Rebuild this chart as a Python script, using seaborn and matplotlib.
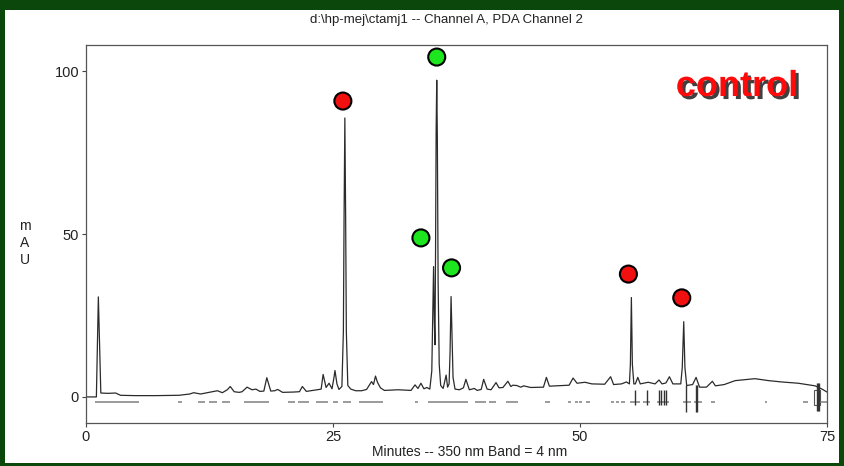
import matplotlib
matplotlib.use("Agg")
import matplotlib.pyplot as plt
import matplotlib.patheffects as pe
from matplotlib.patches import Rectangle
import seaborn as sns
import pandas as pd

# ---------------- data ----------------
time_min = [0.0, 1.05, 1.25, 1.5, 2.2, 3.0, 3.5, 5.0, 7.0, 9.4, 10.5, 10.9, 11.6, 12.3, 12.8, 13.3, 13.8,
            14.3, 14.6, 15.0, 15.5, 15.8, 16.3, 16.8, 17.2, 17.6, 18.0, 18.3, 18.7, 19.1, 19.4, 19.9,
            21.0, 21.6, 21.9, 22.3, 23.0, 23.4, 23.8, 24.0, 24.3, 24.6, 24.9, 25.1, 25.2, 25.4, 25.6,
            25.9, 26.05, 26.12, 26.2, 26.28, 26.35, 26.5, 26.8, 27.3, 27.9, 28.4, 28.9, 29.1, 29.3,
            29.5, 29.8, 30.2, 31.6, 32.9, 33.3, 33.6, 33.9, 34.2, 34.5, 34.8, 35.0, 35.1, 35.18,
            35.25, 35.32, 35.38, 35.44, 35.5, 35.56, 35.64, 35.75, 35.9, 36.15, 36.45, 36.6, 36.75,
            36.85, 36.95, 37.05, 37.15, 37.35, 37.8, 38.2, 38.45, 38.8, 39.3, 39.6, 40.0, 40.25,
            40.6, 41.0, 41.5, 41.8, 42.2, 42.7, 43.0, 43.2, 43.6, 44.0, 44.3, 45.0, 46.3, 46.6,
            46.9, 48.4, 48.9, 49.3, 49.7, 50.5, 51.2, 52.5, 53.1, 53.4, 54.2, 54.7, 55.0, 55.1,
            55.2, 55.3, 55.45, 55.6, 55.85, 56.1, 56.9, 57.6, 58.0, 58.3, 58.7, 59.05, 59.4, 60.2,
            60.35, 60.5, 60.62, 60.8, 61.4, 61.75, 62.1, 62.8, 63.4, 63.7, 64.6, 65.7, 66.7, 67.7,
            69.1, 70.4, 72.1, 73.8, 74.5, 75.0]
absorbance_mau = [0.0, 0.0, 30.7, 1.2, 1.1, 1.2, 0.5, 0.4, 0.4, 0.5, 0.9, 1.3, 0.9, 1.3, 1.6, 1.9, 1.3,
                  2.2, 3.2, 1.6, 1.4, 1.6, 3.0, 2.2, 2.4, 1.7, 1.8, 5.9, 1.8, 1.9, 2.3, 1.4,
                  1.5, 1.6, 3.2, 1.7, 2.0, 2.2, 2.4, 6.9, 2.9, 4.2, 2.5, 6.0, 8.1, 4.0, 2.3,
                  3.2, 20.0, 55.0, 85.6, 55.0, 20.0, 3.5, 2.4, 1.9, 1.9, 2.3, 4.7, 3.8, 6.4,
                  4.5, 2.8, 2.0, 2.2, 2.0, 3.7, 2.6, 4.2, 2.5, 2.9, 2.4, 8.0, 25.0, 40.0,
                  24.0, 16.0, 45.0, 82.0, 97.2, 80.0, 35.0, 10.0, 3.5, 2.6, 6.7, 3.0, 4.0,
                  14.0, 30.8, 18.0, 6.0, 2.4, 2.2, 2.8, 5.4, 2.2, 2.6, 2.0, 2.3, 5.4,
                  2.4, 2.2, 4.4, 2.8, 2.9, 4.8, 3.2, 3.6, 3.5, 3.0, 3.4, 2.9, 3.0, 6.0,
                  3.3, 3.5, 3.6, 5.8, 4.2, 4.5, 4.0, 3.9, 6.2, 3.8, 4.0, 4.6, 4.0, 10.0,
                  30.5, 10.0, 4.0, 4.0, 6.0, 4.0, 4.5, 4.0, 5.2, 4.0, 4.3, 6.2, 4.0, 4.0,
                  9.0, 23.1, 9.0, 3.5, 3.8, 6.0, 3.0, 3.0, 4.8, 3.4, 3.8, 5.0, 5.3, 5.6,
                  5.0, 4.6, 4.2, 3.4, 2.4, 1.5]

marker_time = [26.0, 35.5, 33.9, 37.0, 54.9, 60.3]
marker_mau = [90.8, 104.3, 48.8, 39.6, 37.7, 30.4]
marker_group = ["red", "green", "green", "green", "red", "red"]

# integration baseline segments (start, end) in minutes
seg_start = [0.9, 9.3, 11.3, 12.4, 13.8, 16.0, 20.4, 21.5, 23.3, 25.0, 26.0, 27.6, 33.3, 34.6, 39.4,
             40.8, 42.5, 46.5, 48.8, 49.5, 49.9, 50.6, 53.1, 53.6, 54.1, 55.1, 56.4, 57.8, 60.4,
             61.5, 63.3, 68.7, 72.6, 74.3]
seg_end = [5.4, 9.7, 12.0, 13.3, 14.6, 18.5, 21.2, 22.6, 24.5, 25.5, 26.8, 30.1, 33.6, 38.7, 40.5,
           41.5, 43.7, 47.0, 49.1, 49.8, 50.2, 51.0, 53.4, 53.9, 54.6, 56.1, 57.1, 59.0, 61.2,
           62.3, 63.7, 68.9, 73.1, 75.0]
# event tick marks (time, low, high)
tick_time = [55.6, 56.8, 58.0, 58.2, 58.5, 58.7, 60.7, 61.75, 61.85, 74.0, 74.1, 74.2]
tick_low = [-2.5, -2.5, -2.5, -2.5, -2.5, -2.5, -4.5, -4.5, -4.5, -4.2, -4.2, -4.2]
tick_high = [2.1, 2.1, 2.1, 2.1, 2.1, 2.1, 3.7, 3.7, 3.7, 4.3, 4.3, 4.3]

x_ticks = [0, 25, 50, 75]
y_ticks = [0, 50, 100]

# ---------------- figure ----------------
sns.set_theme(style="white")
plt.rcParams["font.family"] = ["Liberation Sans", "DejaVu Sans"]

W, H = 844, 466
fig = plt.figure(figsize=(W / 100, H / 100), dpi=100)
fig.patch.set_facecolor("#0b470b")
fig.add_artist(Rectangle((5 / W, 3 / H), (W - 10) / W, (H - 13) / H, transform=fig.transFigure,
                         facecolor="white", edgecolor="none", zorder=-5))

ax = fig.add_axes([86 / W, (H - 423) / H, 741 / W, 378 / H])
ax.set_facecolor("white")

trace = pd.DataFrame({"t": time_min, "mau": absorbance_mau})
sns.lineplot(data=trace, x="t", y="mau", ax=ax, color="#2b2b2b", linewidth=0.9,
             estimator=None, sort=False)

base_y = -1.5
for s, e in zip(seg_start, seg_end):
    ax.plot([s, e], [base_y, base_y], color="#8a8a8a", linewidth=1.2, solid_capstyle="butt")
ax.vlines(tick_time, tick_low, tick_high, colors="#333333", linewidth=1.0)
ax.add_patch(Rectangle((73.7, -2.5), 0.6, 4.6, facecolor="none", edgecolor="#555555", linewidth=0.8))

marks = pd.DataFrame({"t": marker_time, "mau": marker_mau, "g": marker_group})
sns.scatterplot(data=marks, x="t", y="mau", hue="g", palette={"red": "#f01010", "green": "#1ee61e"},
                s=150, edgecolor="black", linewidth=1.5, ax=ax, legend=False, zorder=5, clip_on=False)

ax.set_xlim(0, 75)
ax.set_ylim(-8.0, 108.0)
ax.set_xticks(x_ticks)
ax.set_yticks(y_ticks)
ax.set_xticklabels([str(v) for v in x_ticks])
ax.set_yticklabels([str(v) for v in y_ticks])
ax.tick_params(axis="both", direction="out", length=3, width=0.8, colors="#444444",
               labelsize=10.5, labelcolor="#222222", pad=2, left=True, bottom=True)
for sp in ax.spines.values():
    sp.set_color("#555555")
    sp.set_linewidth(0.9)
ax.set_xlabel("")
ax.set_ylabel("")

fig.text(446 / W, 1 - 20 / H, r"d:\hp-mej\ctamj1 -- Channel A, PDA Channel 2", ha="center",
         va="center", fontsize=9.5, color="#222222")
fig.text(470 / W, 1 - 452 / H, "Minutes -- 350 nm Band = 4 nm", ha="center", va="center",
         fontsize=10, color="#222222")
fig.text(25 / W, 1 - 243 / H, "m\nA\nU", ha="center", va="center", fontsize=10,
         color="#222222", linespacing=1.25)
fig.text(737 / W, 1 - 96 / H, "control", ha="center", va="baseline", fontsize=26,
         fontweight="bold", color="#ff0a0a",
         path_effects=[pe.SimplePatchShadow(offset=(2.2, -2.2), shadow_rgbFace="black", alpha=0.75),
                       pe.Normal()])

fig.savefig("out.png", dpi=100, facecolor=fig.get_facecolor())
